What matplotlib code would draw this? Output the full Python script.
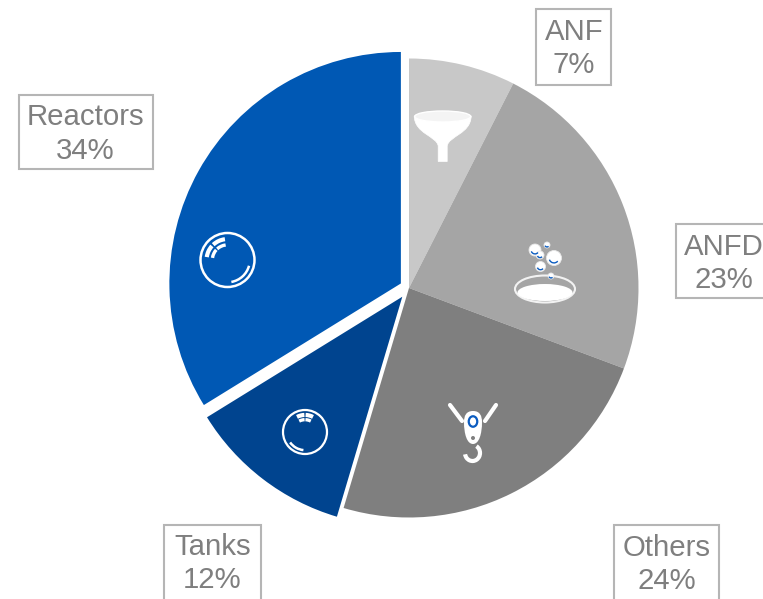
import matplotlib
matplotlib.use("Agg")
import matplotlib.pyplot as plt
from matplotlib.patches import Circle, Ellipse, Arc, Rectangle, PathPatch
from matplotlib.path import Path

# Data
categories = ["ANF", "ANFD", "Others", "Tanks", "Reactors"]
percent_labels = ["7%", "23%", "24%", "12%", "34%"]
slice_values = [7.5, 23.2, 23.9, 11.6, 33.8]
slice_colors = ["#C8C8C8", "#A5A5A5", "#7F7F7F", "#00448F", "#0058B4"]
slice_explode = [0, 0, 0, 11, 9.3]

W, H = 763, 599
fig = plt.figure(figsize=(W / 100, H / 100), dpi=100, facecolor="white")
ax = fig.add_axes([0, 0, 1, 1])


def Y(y):
    return H - y


wedges, _ = ax.pie(slice_values, colors=slice_colors, explode=slice_explode, center=(409, Y(288)),
                   radius=229.5, startangle=90, counterclock=False, frame=True,
                   wedgeprops=dict(linewidth=0))
wedges[4].set_radius(231.5)
ax.set_xlim(0, W)
ax.set_ylim(0, H)
ax.set_aspect("equal")
ax.axis("off")

# Label boxes (x0, x1, y top, y bottom in image pixels)
boxes = {
    "ANF": (536, 610.5, 8.5, 84.5),
    "ANFD": (675.5, 790, 223.5, 298),
    "Others": (614, 718.5, 525, 640),
    "Tanks": (164, 260.5, 524.5, 640),
    "Reactors": (18.5, 152.5, 94.5, 169),
}
label_centers = {
    "ANF": (574, 48.5),
    "ANFD": (723.5, 263.5),
    "Others": (666.5, 564.5),
    "Tanks": (212.5, 563.5),
    "Reactors": (85.5, 134),
}
for name, pct in zip(categories, percent_labels):
    x0, x1, yt, yb = boxes[name]
    ax.add_patch(Rectangle((x0, Y(yb)), x1 - x0, yb - yt, fc="white", ec="#B5B5B5", lw=1.5, zorder=3))
    cx, cy = label_centers[name]
    ax.text(cx, Y(cy), f"{name}\n{pct}", ha="center", va="center", family="Liberation Sans",
            fontsize=21.2, linespacing=1.27, color="#7F7F7F", zorder=4)

WHITE = "white"
BLUE = "#0B5CC0"


def arc(cx, cy, d, t1, t2, lw):
    ax.add_patch(Arc((cx, Y(cy)), d, d, theta1=t1, theta2=t2, color=WHITE, lw=lw, zorder=5))


def bubble(cx, cy, r, rim, spans, low):
    ax.add_patch(Circle((cx, Y(cy)), r, fc="none", ec=WHITE, lw=rim, zorder=5))
    for t1, t2 in spans:
        arc(cx, cy, 1.55 * r, t1, t2, 3.0)
        arc(cx, cy, 1.12 * r, t1, t2, 2.4)
    arc(cx, cy, 1.65 * r, low[0], low[1], 1.8)


def mini_bubble(cx, cy, r):
    ax.add_patch(Circle((cx, Y(cy)), r, fc=WHITE, ec="#E8E8E8", lw=0.6, zorder=6))
    ax.add_patch(Arc((cx, Y(cy)), 1.3 * r, 1.3 * r, theta1=200, theta2=320, color=BLUE, lw=1.0, zorder=7))


# Reactors / Tanks bubbles
bubble(227.5, 260, 27, 1.8, [(97, 133), (138, 172)], (280, 345))
bubble(305, 432, 22, 1.6, [(62, 88), (92, 118)], (215, 265))

# Funnel
fx = 442.7
funnel = Path(
    [(fx - 28.5, Y(116)), (fx - 28, Y(134)), (fx - 6, Y(136)), (fx - 4.5, Y(146)), (fx - 4.5, Y(161.5)),
     (fx + 4.5, Y(161.5)), (fx + 4.5, Y(146)), (fx + 6, Y(136)), (fx + 28, Y(134)), (fx + 28.5, Y(116)),
     (fx - 28.5, Y(116))],
    [Path.MOVETO, Path.CURVE4, Path.CURVE4, Path.CURVE4, Path.LINETO,
     Path.LINETO, Path.LINETO, Path.CURVE4, Path.CURVE4, Path.CURVE4, Path.CLOSEPOLY],
)
ax.add_patch(PathPatch(funnel, fc=WHITE, ec=WHITE, lw=0.5, zorder=5))
ax.add_patch(Ellipse((fx, Y(116.5)), 56, 11, fc="#F4F4F4", ec=WHITE, lw=1.0, zorder=6))

# Pan with bubbles
ax.add_patch(Ellipse((545, Y(289)), 60, 27, fc="#A5A5A5", ec="#F2F2F2", lw=1.5, zorder=5))
ax.add_patch(Ellipse((545, Y(292.5)), 55, 17, fc=WHITE, ec="none", zorder=6))
for bx, by, br in [(535, 250, 6), (554, 258, 7.5), (540.5, 266.5, 5), (547, 245, 3), (540, 255, 4), (551, 276, 3)]:
    mini_bubble(bx, by, br)

# Hook
ax.plot([450, 462], [Y(405), Y(421)], color=WHITE, lw=3, solid_capstyle="round", zorder=5)
ax.plot([496, 485], [Y(405), Y(421)], color=WHITE, lw=3, solid_capstyle="round", zorder=5)
hook_body = Path(
    [(473, Y(411)), (480, Y(411)), (482, Y(416)), (482, Y(422)), (482, Y(434)), (479, Y(444)), (473, Y(444)),
     (467, Y(444)), (464, Y(434)), (464, Y(422)), (464, Y(416)), (466, Y(411)), (473, Y(411))],
    [Path.MOVETO] + [Path.CURVE4] * 12,
)
ax.add_patch(PathPatch(hook_body, fc=WHITE, ec="none", zorder=5))
ax.add_patch(Ellipse((473, Y(421.5)), 8.5, 10.5, fc="none", ec=BLUE, lw=1.6, zorder=6))
ax.add_patch(Circle((473, Y(438)), 2, fc="#808080", ec="none", zorder=6))
ax.add_patch(Arc((472.5, Y(453)), 15, 16, theta1=190, theta2=420, color=WHITE, lw=3, zorder=5))

fig.savefig("out.png", dpi=100, facecolor="white")
